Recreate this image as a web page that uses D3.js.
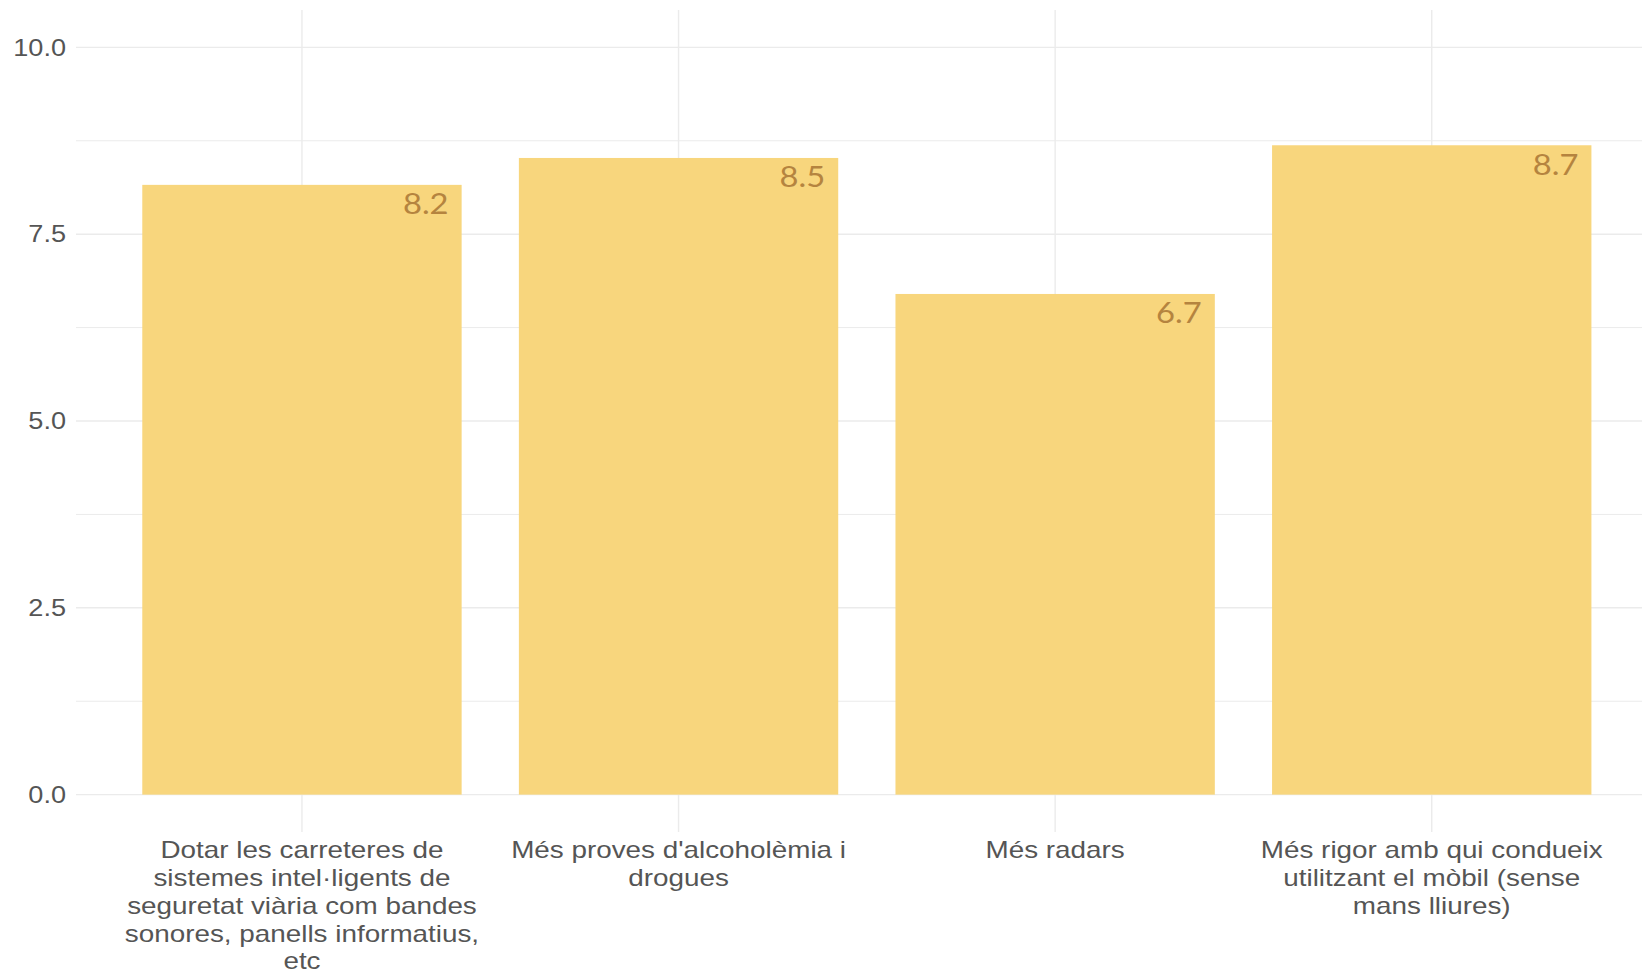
<!DOCTYPE html>
<html>
<head>
<meta charset="utf-8">
<script src="https://cdn.jsdelivr.net/npm/d3@7"></script>
<style>
  html, body { margin: 0; padding: 0; background: #ffffff; }
  svg { display: block; }
</style>
</head>
<body>
<svg id="chart" width="1642" height="970"></svg>
<script>
// ---- data ----
const categories = [
  "Dotar les carreteres de sistemes intel·ligents de seguretat viària com bandes sonores, panells informatius, etc",
  "Més proves d'alcoholèmia i drogues",
  "Més radars",
  "Més rigor amb qui condueix utilitzant el mòbil (sense mans lliures)"
];
const categoryLines = [
  ["Dotar les carreteres de", "sistemes intel·ligents de", "seguretat viària com bandes", "sonores, panells informatius,", "etc"],
  ["Més proves d'alcoholèmia i", "drogues"],
  ["Més radars"],
  ["Més rigor amb qui condueix", "utilitzant el mòbil (sense", "mans lliures)"]
];
const values = [8.16, 8.52, 6.70, 8.69];
const valueLabels = ["8.2", "8.5", "6.7", "8.7"];
const yTicks = [0, 2.5, 5, 7.5, 10];
const yTickLabels = ["0.0", "2.5", "5.0", "7.5", "10.0"];
const yMinorTicks = [1.25, 3.75, 6.25, 8.75];

// ---- layout ----
const W = 1642, H = 970;
const panel = { left: 76, right: 1657.7, top: 10, bottom: 832 };
const SX = 1.13; // horizontal stretch of text
const gridColor = "#ebebeb";
const textColor = "#555555";
const barColor = "#f8d67d";
const labelColor = "#b5843f";

const svg = d3.select("#chart");

const x = d3.scaleBand()
  .domain(categories)
  .range([panel.left, panel.right])
  .paddingInner(0.152)
  .paddingOuter(0.176);

const y = d3.scaleLinear()
  .domain([-0.5, 10.5])
  .range([panel.bottom, panel.top]);

// gridlines
const grid = svg.append("g");
grid.selectAll("line.minor").data(yMinorTicks).join("line")
  .attr("class", "minor")
  .attr("x1", panel.left).attr("x2", W)
  .attr("y1", d => y(d)).attr("y2", d => y(d))
  .attr("stroke", gridColor).attr("stroke-width", 1);
grid.selectAll("line.major").data(yTicks).join("line")
  .attr("class", "major")
  .attr("x1", panel.left).attr("x2", W)
  .attr("y1", d => y(d)).attr("y2", d => y(d))
  .attr("stroke", gridColor).attr("stroke-width", 1.4);
grid.selectAll("line.vert").data(categories).join("line")
  .attr("class", "vert")
  .attr("x1", d => x(d) + x.bandwidth() / 2).attr("x2", d => x(d) + x.bandwidth() / 2)
  .attr("y1", panel.top).attr("y2", panel.bottom)
  .attr("stroke", gridColor).attr("stroke-width", 1.4);

// bars
svg.append("g").selectAll("rect").data(values).join("rect")
  .attr("x", (d, i) => x(categories[i]))
  .attr("width", x.bandwidth())
  .attr("y", d => y(d))
  .attr("height", d => y(0) - y(d))
  .attr("fill", barColor);

// value labels
svg.append("g").selectAll("text").data(values).join("text")
  .attr("transform", (d, i) => `translate(${x(categories[i]) + x.bandwidth() - 13},${y(d) + 29.5}) scale(${SX},1)`)
  .attr("text-anchor", "end")
  .attr("font-family", "Lato, 'Open Sans', sans-serif")
  .attr("font-size", 29)
  .attr("fill", labelColor)
  .text((d, i) => valueLabels[i]);

// y axis
const yAxis = d3.axisLeft(y)
  .tickValues(yTicks)
  .tickSize(0)
  .tickPadding(10)
  .tickFormat((d, i) => yTickLabels[i]);
const gy = svg.append("g")
  .attr("transform", `translate(${panel.left},0)`)
  .call(yAxis);
gy.select(".domain").remove();
gy.selectAll("text")
  .attr("x", -10 / SX)
  .attr("transform", `scale(${SX},1)`)
  .attr("font-family", "'Liberation Sans', Arial, sans-serif")
  .attr("font-size", 24)
  .attr("fill", textColor);

// x axis
const XS = 1.16;
const xAxis = d3.axisBottom(x).tickSize(0).tickPadding(0);
const gx = svg.append("g")
  .attr("transform", `translate(0,${panel.bottom})`)
  .call(xAxis);
gx.select(".domain").remove();
gx.selectAll("text")
  .attr("y", 0).attr("dy", null)
  .attr("transform", `scale(${XS},1)`)
  .attr("font-family", "'Liberation Sans', Arial, sans-serif")
  .attr("font-size", 24)
  .attr("fill", textColor)
  .attr("text-anchor", "middle")
  .each(function(d, i) {
    const t = d3.select(this);
    t.text(null);
    categoryLines[i].forEach((line, k) => {
      t.append("tspan")
        .attr("x", 0)
        .attr("y", 26.5 + k * 27.7)
        .text(line);
    });
  });
</script>
</body>
</html>
